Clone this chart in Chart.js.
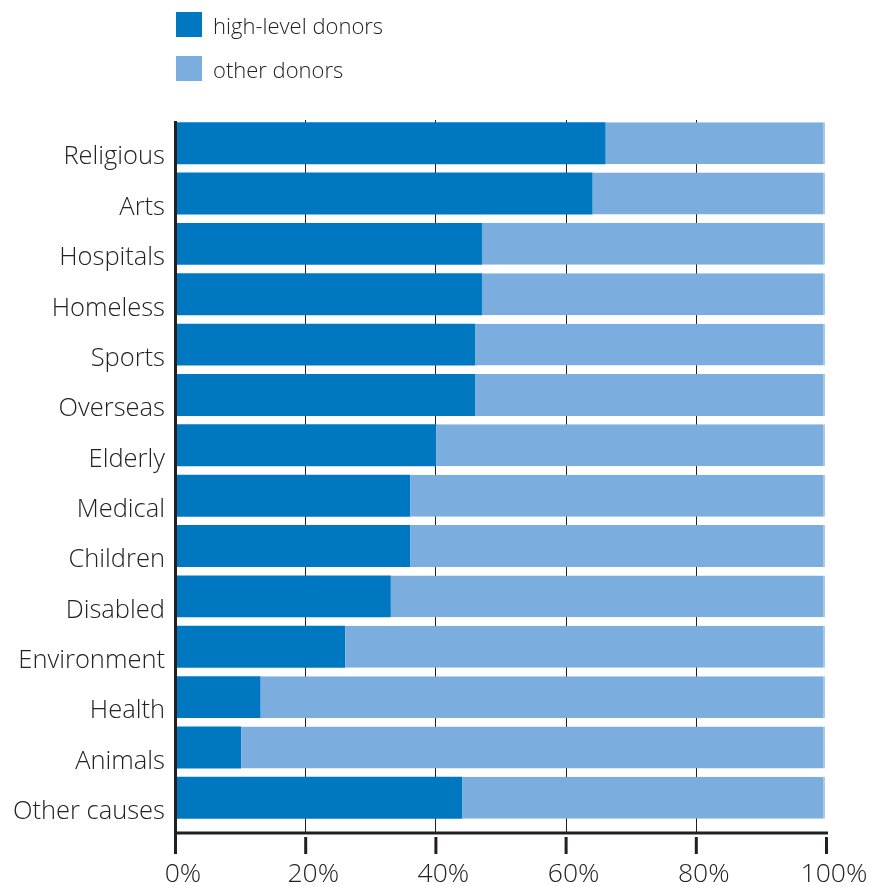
<!DOCTYPE html>
<html>
<head>
<meta charset="utf-8">
<script src="https://cdn.jsdelivr.net/npm/chart.js@4.4.1/dist/chart.umd.min.js"></script>
<style>
  body { margin: 0; background: #fff; }
  #wrap { position: relative; width: 873px; height: 886px; }
  #legend { position: absolute; left: 176px; top: 12px; font-family: 'Open Sans', sans-serif; font-weight: 300; font-size: 22px; color: #222; }
  #legend .item { display: flex; align-items: center; height: 25px; margin-bottom: 19px; }
  #legend .box { width: 26px; height: 25px; margin-right: 11px; }
</style>
</head>
<body>
<div id="wrap">
  <canvas id="graph" width="873" height="886"></canvas>
  <div id="legend"></div>
</div>
<script>
const causes = ['Religious', 'Arts', 'Hospitals', 'Homeless', 'Sports', 'Overseas', 'Elderly',
    'Medical', 'Children', 'Disabled', 'Environment', 'Health', 'Animals', 'Other causes'];
const highLevel = [66, 64, 47, 47, 46, 46, 40, 36, 36, 33, 26, 13, 10, 44];
const otherDonors = [33.7, 35.7, 52.7, 52.7, 53.7, 53.7, 59.7, 63.7, 63.7, 66.7, 73.7, 86.7, 89.7, 55.7];
const xTicks = [0, 20, 40, 60, 80, 100];

const darkBlue = '#0078c1';
const lightBlue = '#7badde';
const ink = '#231f20';
const labelFont = 'Open Sans';

// axis lines, thin grid lines and the detached tick marks below the bottom axis
const axisFrame = {
    id: 'axisFrame',
    beforeDatasetsDraw: function (chart) {
        const ctx = chart.ctx;
        const area = chart.chartArea;
        const x = chart.scales.x;
        const axisY = area.bottom + 10;
        ctx.save();
        ctx.strokeStyle = ink;
        ctx.lineWidth = 1;
        xTicks.slice(1, -1).forEach(function (v) {
            const px = Math.round(x.getPixelForValue(v)) - 0.5;
            ctx.beginPath();
            ctx.moveTo(px, area.top + 2);
            ctx.lineTo(px, axisY);
            ctx.stroke();
        });
        ctx.restore();
    },
    afterDraw: function (chart) {
        const ctx = chart.ctx;
        const area = chart.chartArea;
        const x = chart.scales.x;
        const axisY = area.bottom + 10;
        const left = area.left - 0.5;
        ctx.save();
        ctx.strokeStyle = ink;
        ctx.lineWidth = 3;
        ctx.beginPath();
        ctx.moveTo(left, area.top + 3);
        ctx.lineTo(left, axisY + 21);
        ctx.moveTo(left, axisY);
        ctx.lineTo(x.getPixelForValue(100) + 1, axisY);
        ctx.stroke();
        xTicks.slice(1).forEach(function (v) {
            const px = x.getPixelForValue(v) - 0.5;
            ctx.beginPath();
            ctx.moveTo(px, axisY + 4);
            ctx.lineTo(px, axisY + 21);
            ctx.stroke();
        });
        ctx.restore();
    }
};

const chart = new Chart(document.getElementById('graph'), {
    type: 'bar',
    data: {
        labels: causes,
        datasets: [
            {
                label: 'high-level donors',
                data: highLevel,
                backgroundColor: darkBlue,
                borderWidth: 0
            },
            {
                label: 'other donors',
                data: otherDonors,
                backgroundColor: lightBlue,
                borderColor: '#a8c9e8',
                borderWidth: { top: 0, right: 2, bottom: 0, left: 0 },
                borderSkipped: false
            }
        ]
    },
    options: {
        indexAxis: 'y',
        responsive: false,
        animation: false,
        layout: { padding: { top: 118, right: 46, bottom: 0, left: 0 } },
        categoryPercentage: 1,
        barPercentage: 0.833,
        plugins: {
            legend: { display: false },
            tooltip: { enabled: false }
        },
        scales: {
            x: {
                stacked: true,
                min: 0,
                max: 100,
                grid: { display: false, drawTicks: false },
                border: { display: false },
                afterFit: function (scale) {
                    scale.height = 63;
                    scale.paddingLeft = 0;
                    scale.paddingRight = 0;
                },
                afterBuildTicks: function (scale) {
                    scale.ticks = xTicks.map(function (v) { return { value: v }; });
                },
                ticks: {
                    padding: 36,
                    labelOffset: 7,
                    color: '#222',
                    font: { family: labelFont, size: 26.5, weight: '300' },
                    callback: function (v) { return v + '%'; }
                }
            },
            y: {
                stacked: true,
                grid: { display: false, drawTicks: false },
                border: { display: false },
                afterFit: function (scale) {
                    scale.width = 176;
                    scale.paddingTop = 0;
                    scale.paddingBottom = 0;
                },
                ticks: {
                    padding: 11,
                    labelOffset: 14,
                    color: '#222',
                    font: { family: labelFont, size: 25.5, weight: '300' }
                }
            }
        }
    },
    plugins: [axisFrame]
});

// legend as a plain list next to the chart
const legend = document.getElementById('legend');
chart.data.datasets.forEach(function (ds) {
    const item = document.createElement('div');
    item.className = 'item';
    const box = document.createElement('span');
    box.className = 'box';
    box.style.background = ds.backgroundColor;
    const text = document.createElement('span');
    text.textContent = ds.label;
    item.appendChild(box);
    item.appendChild(text);
    legend.appendChild(item);
});
</script>
</body>
</html>
